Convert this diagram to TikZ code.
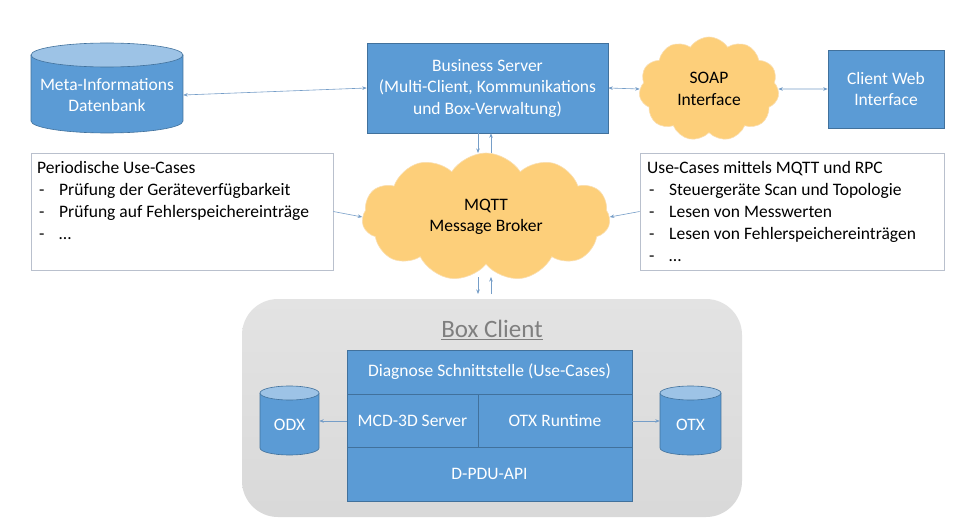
\documentclass[tikz,border=0pt]{standalone}
\usepackage{fontspec}
\setmainfont{Carlito}
\usetikzlibrary{shapes.symbols,arrows.meta,positioning}
\definecolor{mblue}{RGB}{91,155,213}
\definecolor{mbluedark}{RGB}{65,113,156}
\definecolor{mbluelight}{RGB}{157,195,230}
\definecolor{cloudfill}{RGB}{253,207,122}
\definecolor{cloudline}{RGB}{250,222,175}
\definecolor{arrowc}{RGB}{118,158,200}
\definecolor{boxline}{RGB}{185,192,205}
\definecolor{titlegray}{RGB}{127,127,127}
\tikzset{
  bluebox/.style={draw=mbluedark, line width=0.6pt, fill=mblue, text=white, align=center, inner sep=0pt, font=\fontsize{17.5}{21.5}\selectfont},
  cloudnode/.style={cloud, cloud puffs=11, cloud puff arc=115, cloud ignores aspect, draw=cloudline, line width=0.6pt, fill=cloudfill, align=center, inner sep=0pt, font=\fontsize{17.5}{21.5}\selectfont},
  textbox/.style={draw=boxline, line width=0.7pt, fill=white, inner sep=0pt},
  listtext/.style={anchor=north west, align=left, inner sep=0pt, font=\fontsize{17.5}{22}\selectfont},
  dbtext/.style={text=white, align=center, inner sep=0pt, font=\fontsize{17.5}{21.5}\selectfont},
  conn/.style={draw=arrowc, line width=0.6pt},
  tip/.style={-{Stealth[length=4.5pt,width=3.5pt]}},
  bitip/.style={{Stealth[length=4.5pt,width=3.5pt]}-{Stealth[length=4.5pt,width=3.5pt]}},
}
\newcommand{\dash}{\hspace*{2pt}\makebox[20pt][l]{-}}
\begin{document}
\begin{tikzpicture}[x=1pt,y=-1pt]
\useasboundingbox (0,0) rectangle (975,532);
\fill[white] (0,0) rectangle (975,532);

% Meta-Informations Datenbank cylinder
\fill[mblue] (31,55) rectangle (183,121);
\fill[mblue] (107,121) ellipse [x radius=76pt, y radius=12pt];
\draw[mbluedark, line width=0.6pt] (31,55) -- (31,121) arc[start angle=180, end angle=360, x radius=76pt, y radius=12pt] -- (183,55);
\filldraw[fill=mbluelight, draw=mbluedark, line width=0.6pt] (107,55) ellipse [x radius=76pt, y radius=12pt];
\node[dbtext, minimum width=152, minimum height=66] (db) at (107,95) {Meta-Informations\\Datenbank};

% Business Server
\node[bluebox, minimum width=241, minimum height=90] (bs) at (487.5,88) {Business Server\\(Multi-Client, Kommunikations\\und Box-Verwaltung)};

% SOAP cloud
\node[cloudnode, minimum width=140, minimum height=104] (soap) at (709,89) {SOAP\\Interface};

% Client Web Interface
\node[bluebox, minimum width=116, minimum height=78] (cw) at (886,89) {Client Web\\Interface};

% MQTT cloud
\node[cloudnode, minimum width=248, minimum height=128] (mqtt) at (486,217) {MQTT\\Message Broker};

% left list box
\node[textbox, minimum width=302, minimum height=117] (lb) at (182,211.5) {};
\node[listtext] (lbt) at (37,161) {Periodische Use-Cases\\
\dash Prüfung der Geräteverfügbarkeit\\
\dash Prüfung auf Fehlerspeichereinträge\\
\dash …};

% right list box
\node[textbox, minimum width=304, minimum height=117] (rb) at (792,211.5) {};
\node[listtext] (rbt) at (647,161) {Use-Cases mittels MQTT und RPC\\
\dash Steuergeräte Scan und Topologie\\
\dash Lesen von Messwerten\\
\dash Lesen von Fehlerspeichereinträgen\\
\dash …};

% Box Client container
\node[draw=none, rounded corners=36pt, top color=gray!22, bottom color=gray!30, minimum width=500, minimum height=218, inner sep=0pt] (bc) at (492,408) {};
\node[text=titlegray, font=\fontsize{25}{28}\selectfont, inner sep=0pt] (bct) at (492,330) {\underline{Box Client}};

% inner stack
\node[bluebox, minimum width=285, minimum height=44] (diag) at (489.5,372) {Diagnose Schnittstelle (Use-Cases)};
\node[bluebox, minimum width=131, minimum height=53] (mcd) at (412.5,420.5) {MCD-3D Server};
\node[bluebox, minimum width=154, minimum height=53] (otxr) at (555,420.5) {OTX Runtime};
\node[bluebox, minimum width=285, minimum height=54] (dpdu) at (489.5,474) {D-PDU-API};

% ODX cylinder
\fill[mblue] (260,393) rectangle (319,448);
\fill[mblue] (289.5,448) ellipse [x radius=29.5pt, y radius=7pt];
\draw[mbluedark, line width=0.6pt] (260,393) -- (260,448) arc[start angle=180, end angle=360, x radius=29.5pt, y radius=7pt] -- (319,393);
\filldraw[fill=mbluelight, draw=mbluedark, line width=0.6pt] (289.5,393) ellipse [x radius=29.5pt, y radius=7pt];
\node[dbtext, minimum width=59, minimum height=55] (odx) at (289.5,425) {ODX};

% OTX cylinder
\fill[mblue] (660,393) rectangle (721,448);
\fill[mblue] (690.5,448) ellipse [x radius=30.5pt, y radius=7pt];
\draw[mbluedark, line width=0.6pt] (660,393) -- (660,448) arc[start angle=180, end angle=360, x radius=30.5pt, y radius=7pt] -- (721,393);
\filldraw[fill=mbluelight, draw=mbluedark, line width=0.6pt] (690.5,393) ellipse [x radius=30.5pt, y radius=7pt];
\node[dbtext, minimum width=61, minimum height=55] (otx) at (690.5,425) {OTX};

% connectors
\draw[conn, bitip] (db.east) -- (bs.west);
\draw[conn, bitip] (bs.east) -- (soap.west);
\draw[conn, bitip] (soap.east) -- (cw.west);
\coordinate (p1) at (478,153);
\coordinate (p2) at (491,153);
\draw[conn, tip] (bs.south -| p1) -- (p1);
\draw[conn, tip] (p2) -- (bs.south -| p2);
\draw[conn, tip] (lb.east) -- (mqtt.west);
\draw[conn, tip] (rb.west) -- (mqtt.east);
\coordinate (q1) at (478,277);
\coordinate (q2) at (478,294);
\coordinate (q3) at (491,294);
\coordinate (q4) at (491,277);
\draw[conn, tip] (q1) -- (q2);
\draw[conn, tip] (q3) -- (q4);
\draw[conn, tip] (mcd.west |- 0,421) -- (odx.east |- 0,421);
\draw[conn, tip] (otxr.east |- 0,421) -- (otx.west |- 0,421);
\end{tikzpicture}
\end{document}
